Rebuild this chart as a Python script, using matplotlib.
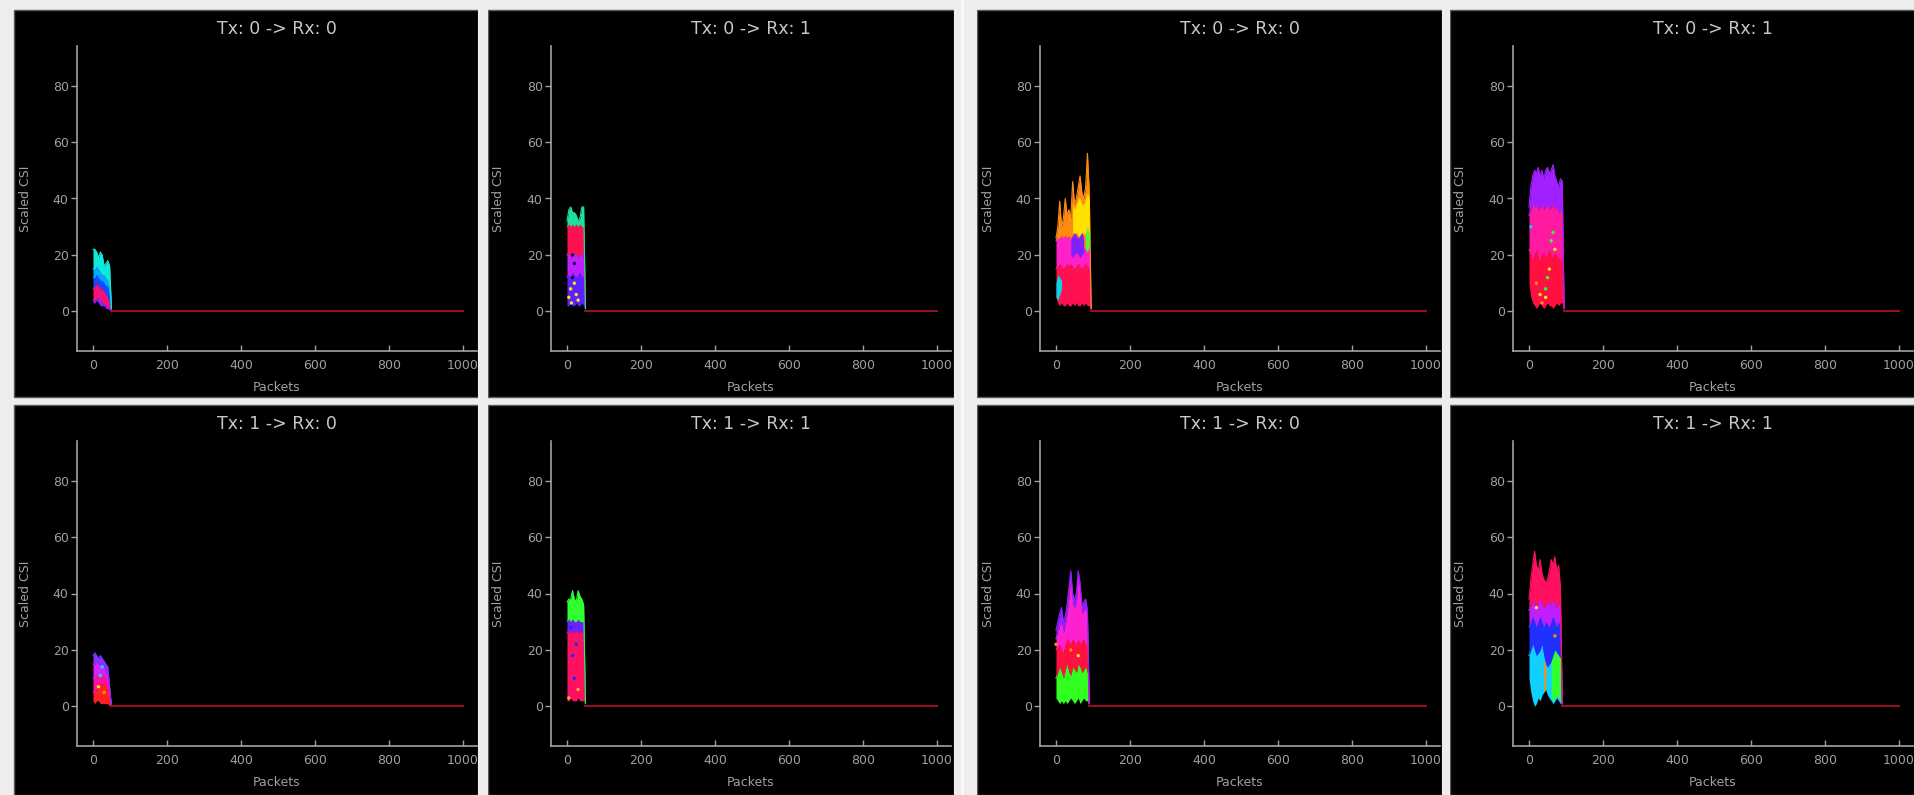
import numpy as np
import matplotlib
matplotlib.use("Agg")
import matplotlib.pyplot as plt
from matplotlib.patches import Rectangle

N = np.nan

TITLES = ["Tx: 0 -> Rx: 0", "Tx: 0 -> Rx: 1", "Tx: 0 -> Rx: 0", "Tx: 0 -> Rx: 1",
          "Tx: 1 -> Rx: 0", "Tx: 1 -> Rx: 1", "Tx: 1 -> Rx: 0", "Tx: 1 -> Rx: 1"]
X_LABEL = "Packets"
Y_LABEL = "Scaled CSI"
X_TICKS = [0, 200, 400, 600, 800, 1000]
Y_TICKS = [0, 20, 40, 60, 80]

X_LEFT = [0, 5, 10, 15, 20, 25, 30, 35, 40, 45, 50]
X_RIGHT = [0, 5, 10, 15, 20, 25, 30, 35, 40, 45, 50, 55, 60, 65, 70, 75, 80, 85, 90, 95]
ZERO_START = [50, 50, 95, 95, 50, 50, 90, 90]
ZERO_END = 1000

# ---- stacked colour bands (edges bottom -> top) ----
P1_EDGES = [[3, 3, 4, 3, 2, 2, 2, 1, 1, 0.5, 0],
            [4, 4, 5, 5, 4, 3, 3, 2, 2, 1, 0],
            [8, 9, 10, 9, 8, 8, 7, 6, 5, 3, 1],
            [12, 12, 13, 12, 11, 11, 10, 9, 9, 6, 1],
            [15, 15, 16, 15, 14, 13, 13, 12, 11, 8, 1],
            [22, 22, 21, 19, 21, 20, 16, 17, 18, 16, 1]]
P1_COLORS = ["#8a20ff", "#ff1070", "#1848ff", "#00a8ff", "#10e8d8"]

P2_EDGES = [[2, 2, 3, 2, 2, 3, 2, 2, 3, 2, 1],
            [12, 13, 12, 14, 13, 12, 13, 14, 12, 13, 1],
            [20, 21, 19, 20, 21, 20, 19, 21, 20, 21, 1],
            [30, 31, 30, 31, 30, 31, 30, 31, 30, 30, 1],
            [32, 36, 37, 35, 35, 34, 32, 33, 37, 37, 1]]
P2_COLORS = ["#5a20ff", "#c020ff", "#ff1050", "#20e0a0"]

P3_EDGES = [[5, 3, 2, 3, 2, 2, 3, 2, 2, 3, 2, 3, 2, 2, 3, 2, 3, 2, 2, 1],
            [15, 16, 17, 16, 15, 16, 17, 16, 17, 16, 15, 16, 17, 16, 15, 16, 17, 16, 15, 1],
            [25, 26, 26, 27, 26, 27, 26, 27, 25, 26, 24, 23, 24, 25, 24, 23, 22, 24, 25, 1],
            [26, 30, 39, 30, 33, 40, 34, 36, 33, 46, 38, 40, 44, 48, 42, 40, 44, 56, 42, 1]]
P3_COLORS = ["#ff1050", "#ff20c8", "#ff8c10"]

P4_EDGES = [[10, 5, 3, 2, 1, 2, 3, 2, 1, 2, 3, 2, 2, 1, 2, 3, 2, 3, 3, 1],
            [22, 20, 18, 20, 22, 19, 18, 20, 21, 19, 20, 22, 20, 19, 21, 20, 19, 18, 20, 1],
            [34, 36, 38, 37, 38, 36, 37, 38, 36, 37, 38, 36, 37, 38, 36, 37, 35, 36, 35, 1],
            [37, 44, 48, 50, 49, 51, 48, 50, 47, 50, 51, 49, 50, 52, 48, 46, 44, 47, 46, 1]]
P4_COLORS = ["#ff1040", "#ff1aa0", "#a020ff"]

P5_EDGES = [[2, 1, 2, 2, 1, 1, 1, 1, 1, 0, 0],
            [5, 5, 6, 7, 8, 8, 8, 7, 6, 3, 0],
            [10, 10, 11, 11, 11, 12, 11, 10, 9, 5, 0],
            [15, 15, 16, 15, 15, 15, 14, 12, 11, 6, 0],
            [18, 19, 18, 17, 18, 17, 16, 15, 14, 7, 0]]
P5_COLORS = ["#ff2020", "#ff10a0", "#d820ff", "#8030ff"]

P6_EDGES = [[2, 2, 3, 2, 2, 2, 3, 2, 2, 2, 1],
            [26, 27, 26, 27, 26, 27, 26, 27, 26, 26, 1],
            [30, 31, 30, 31, 30, 30, 31, 30, 30, 30, 1],
            [37, 38, 38, 41, 38, 37, 41, 39, 38, 36, 1]]
P6_COLORS = ["#ff1060", "#7020ff", "#30ff30"]

P7_EDGES = [[3, 2, 1, 2, 1, 2, 1, 2, 3, 2, 1, 2, 3, 1, 2, 3, 2, 2, 1, N],
            [10, 12, 14, 12, 10, 13, 15, 12, 11, 14, 13, 12, 15, 14, 12, 13, 14, 12, 1, N],
            [20, 21, 22, 20, 19, 22, 24, 23, 22, 24, 23, 22, 24, 22, 23, 24, 22, 21, 1, N],
            [24, 26, 29, 30, 26, 29, 33, 39, 46, 36, 35, 37, 46, 41, 33, 34, 35, 31, 1, N],
            [27, 30, 33, 35, 30, 32, 36, 42, 48, 40, 38, 40, 48, 44, 36, 37, 38, 34, 1, N]]
P7_COLORS = ["#30ff20", "#ff1040", "#ff20d0", "#9020ff"]

P8_EDGES = [[10, 5, 2, 0, 1, 3, 2, 4, 5, 6, 4, 3, 2, 1, 2, 3, 2, 1, 1, N],
            [18, 20, 22, 20, 18, 19, 20, 22, 18, 15, 14, 15, 16, 18, 20, 19, 18, 17, 1, N],
            [28, 30, 32, 30, 28, 30, 32, 30, 28, 30, 29, 28, 30, 32, 30, 28, 30, 28, 1, N],
            [34, 36, 38, 36, 35, 37, 38, 36, 35, 36, 37, 36, 38, 37, 36, 35, 37, 35, 1, N],
            [38, 45, 50, 55, 50, 48, 52, 47, 45, 44, 45, 48, 52, 50, 53, 48, 50, 42, 1, N]]
P8_COLORS = ["#10d0ff", "#2030ff", "#c020ff", "#ff1060"]

# ---- overlay patches (colour, low, high) ----
P3_YELLOW = [[N, N, N, N, N, N, N, N, N, 28, 27, 28, 27, 26, 27, 28, 27, 26, 26, N],
             [N, N, N, N, N, N, N, N, N, 38, 36, 38, 40, 40, 38, 38, 40, 42, 40, N]]
P3_VIOLET = [[N, N, N, N, N, N, N, N, 20, 19, 20, 21, 20, 19, 20, 21, N, N, N, N],
             [N, N, N, N, N, N, N, N, 26, 27, 28, 27, 26, 27, 28, 26, N, N, N, N]]
P3_CYAN = [[5, 4, 6, 8, N, N, N, N, N, N, N, N, N, N, N, N, N, N, N, N],
           [10, 13, 12, 11, N, N, N, N, N, N, N, N, N, N, N, N, N, N, N, N]]
P3_GREEN = [[N, N, N, N, N, N, N, N, N, N, N, N, N, N, N, N, 22, 21, 23, N],
            [N, N, N, N, N, N, N, N, N, N, N, N, N, N, N, N, 28, 30, 27, N]]
P8_GREEN = [[N, N, N, N, N, N, N, N, N, N, N, N, 3, 2, 3, 4, 3, 2, N, N],
            [N, N, N, N, N, N, N, N, N, N, N, N, 16, 18, 20, 19, 18, 17, N, N]]
P8_ORANGE = [[N, N, N, N, N, N, N, N, 5, 6, N, N, N, N, N, N, N, N, N, N],
             [N, N, N, N, N, N, N, N, 17, 15, N, N, N, N, N, N, N, N, N, N]]

# ---- small spots (x, y, colour) ----
P2_SPOT_X = [5, 10, 12, 20, 25, 30, 15, 20, 15]
P2_SPOT_Y = [5, 8, 3, 10, 6, 4, 20, 17, 12]
P2_SPOT_C = ["#ffe020"] * 6 + ["#101040"] * 3
P4_SPOT_X = [45, 50, 60, 65, 45, 55, 70, 35, 20, 5, 30]
P4_SPOT_Y = [8, 12, 25, 28, 5, 15, 22, 3, 10, 30, 6]
P4_SPOT_C = ["#30ff30", "#30ff30", "#30ff30", "#30ff30", "#ffe020", "#ffe020",
             "#ffe020", "#ff8c10", "#ff8c10", "#00d0ff", "#ffe020"]
P5_SPOT_X = [25, 20, 15, 30]
P5_SPOT_Y = [14, 11, 7, 5]
P5_SPOT_C = ["#00e0ff", "#00e0ff", "#ffe020", "#ff8c10"]
P6_SPOT_X = [15, 20, 25, 10, 5, 30]
P6_SPOT_Y = [18, 10, 22, 28, 3, 6]
P6_SPOT_C = ["#1030ff", "#1030ff", "#1030ff", "#1030ff", "#ffb020", "#ffb020"]
P7_SPOT_X = [0, 40, 60]
P7_SPOT_Y = [22, 20, 18]
P7_SPOT_C = ["#ff8c10", "#ff8c10", "#ffe020"]
P8_SPOT_X = [20, 45, 70]
P8_SPOT_Y = [35, 12, 25]
P8_SPOT_C = ["#ffe020", "#ff8c10", "#ff8c10"]

PANELS = [
    (X_LEFT, P1_EDGES, P1_COLORS, [], ([], [], [])),
    (X_LEFT, P2_EDGES, P2_COLORS, [], (P2_SPOT_X, P2_SPOT_Y, P2_SPOT_C)),
    (X_RIGHT, P3_EDGES, P3_COLORS,
     [("#ffe000", P3_YELLOW), ("#8020ff", P3_VIOLET), ("#00d8e8", P3_CYAN), ("#40ff40", P3_GREEN)],
     ([], [], [])),
    (X_RIGHT, P4_EDGES, P4_COLORS, [], (P4_SPOT_X, P4_SPOT_Y, P4_SPOT_C)),
    (X_LEFT, P5_EDGES, P5_COLORS, [], (P5_SPOT_X, P5_SPOT_Y, P5_SPOT_C)),
    (X_LEFT, P6_EDGES, P6_COLORS, [], (P6_SPOT_X, P6_SPOT_Y, P6_SPOT_C)),
    (X_RIGHT, P7_EDGES, P7_COLORS, [], (P7_SPOT_X, P7_SPOT_Y, P7_SPOT_C)),
    (X_RIGHT, P8_EDGES, P8_COLORS, [("#30ff30", P8_GREEN), ("#ff8c10", P8_ORANGE)],
     (P8_SPOT_X, P8_SPOT_Y, P8_SPOT_C)),
]

# ---- layout (pixels) ----
W, H = 1915, 795
COLS = [(14, 478), (488, 954), (977, 1442), (1450, 1915)]
ROWS = [(10, 397), (405, 795)]
BG = "#ededed"
TXT = "#a0a0a0"

fig = plt.figure(figsize=(W / 100, H / 100), dpi=100)
fig.patch.set_facecolor(BG)


def frac_rect(l, t, w, h):
    return [l / W, 1 - (t + h) / H, w / W, h / H]


for idx, (xs, edges, colors, overlays, spots) in enumerate(PANELS):
    r, c = divmod(idx, 4)
    cl, cr = COLS[c]
    rt, rb = ROWS[r]
    fig.add_artist(Rectangle((cl / W, 1 - rb / H), (cr - cl) / W, (rb - rt) / H,
                             transform=fig.transFigure, facecolor="black",
                             edgecolor="#5a5a5a", linewidth=1, zorder=-1))
    ax = fig.add_axes(frac_rect(cl + 63, rt + 36, 400, 305))
    ax.set_facecolor("none")
    ax.set_xlim(-43.2, 1037.8)
    ax.set_ylim(-14, 94)
    for k, col in enumerate(colors):
        lo = np.array(edges[k], dtype=float)
        hi = np.array(edges[k + 1], dtype=float)
        ax.fill_between(xs, lo, hi, color=col, linewidth=0, zorder=2)
        ax.plot(xs, hi, color=col, linewidth=0.8, zorder=2)
    for col, (lo, hi) in overlays:
        ax.fill_between(xs, np.array(lo, float), np.array(hi, float),
                        color=col, linewidth=0, zorder=3)
    sx, sy, sc = spots
    if len(sx):
        ax.scatter(sx, sy, c=sc, s=6, marker="o", linewidths=0, zorder=4)
    ax.plot([ZERO_START[idx], ZERO_END], [0, 0], color="#9a1024", linewidth=1.4, zorder=3)

    ax.set_xticks(X_TICKS)
    ax.set_yticks(Y_TICKS)
    ax.tick_params(axis="x", direction="in", length=4, color=TXT, labelcolor=TXT,
                   labelsize=9, pad=6, width=1)
    ax.tick_params(axis="y", direction="out", length=4, color=TXT, labelcolor=TXT,
                   labelsize=9, pad=2, width=1)
    for s in ("top", "right"):
        ax.spines[s].set_visible(False)
    for s in ("left", "bottom"):
        ax.spines[s].set_color(TXT)
        ax.spines[s].set_linewidth(1.2)
    ax.text(0.5, 1.056, TITLES[idx], transform=ax.transAxes, ha="center", va="center",
            fontsize=12.5, color="#c8c8c8")
    ax.text(0.5, -0.121, X_LABEL, transform=ax.transAxes, ha="center", va="center",
            fontsize=9, color=TXT)
    ax.text(-0.13, 0.5, Y_LABEL, transform=ax.transAxes, ha="center", va="center",
            rotation=90, fontsize=9, color=TXT)

# gaps between panels (cover any overflow)
for (l, r_) in [(478, 488), (954, 977), (1442, 1450)]:
    fig.add_artist(Rectangle((l / W, 0), (r_ - l) / W, 1, transform=fig.transFigure,
                             facecolor=BG, edgecolor="none", zorder=10))
fig.add_artist(Rectangle((961 / W, 0), 3 / W, 1, transform=fig.transFigure,
                         facecolor="#f8f8f8", edgecolor="none", zorder=11))

fig.savefig("out.png", dpi=100, facecolor=BG)
